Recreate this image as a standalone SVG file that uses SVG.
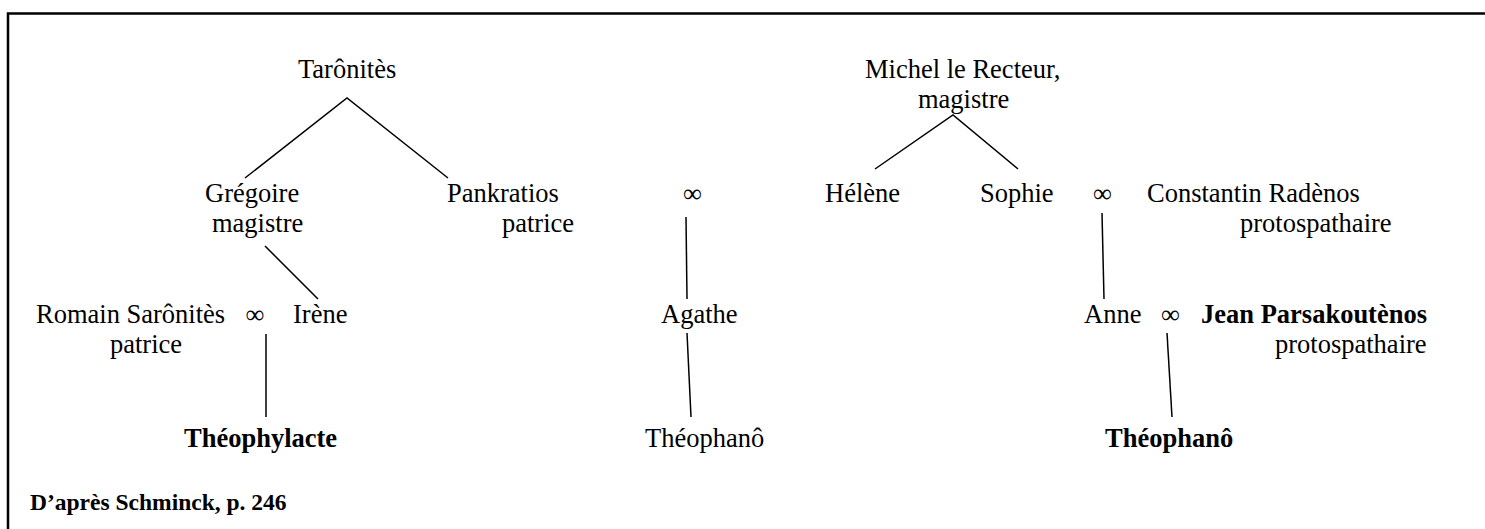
<svg xmlns="http://www.w3.org/2000/svg" width="1485" height="529" viewBox="0 0 1485 529">
<style>
text{font-family:"Liberation Serif","Times New Roman",serif;font-size:26.5px;fill:#000}
.b{font-weight:bold}
.inf{font-size:26.5px}
.src{font-size:23.5px;font-weight:bold}
.ln{stroke:#000;stroke-width:1.5;fill:none}
.frame{stroke:#000;stroke-width:2.5;fill:none}
</style>
<rect width="1485" height="529" fill="#fff"/>
<g id="frame">
<polyline class="frame" points="8,529 8,13.5 1485,13.5"/>
</g>
<g id="connectors">
<polyline class="ln" points="245,178 347,98 448,178"/>
<polyline class="ln" points="875,169 953,115 1018,169"/>
<line class="ln" x1="265" y1="246" x2="318" y2="299"/>
<line class="ln" x1="266" y1="334" x2="266" y2="417"/>
<line class="ln" x1="686" y1="217" x2="687" y2="299"/>
<line class="ln" x1="687" y1="333" x2="691" y2="417"/>
<line class="ln" x1="1102" y1="213" x2="1104" y2="299"/>
<line class="ln" x1="1167" y1="333" x2="1172" y2="417"/>
</g>
<g id="taronites"><text x="298" y="78">Tarônitès</text></g>
<g id="michel"><text x="865" y="78">Michel le Recteur,</text><text x="918" y="108">magistre</text></g>
<g id="gregoire"><text x="205" y="202">Grégoire</text><text x="212" y="232">magistre</text></g>
<g id="pankratios"><text x="447" y="202">Pankratios</text><text x="502" y="232">patrice</text></g>
<g id="marriage1"><text class="inf" x="683" y="202">∞</text></g>
<g id="helene"><text x="825" y="202">Hélène</text></g>
<g id="sophie"><text x="980" y="202">Sophie</text></g>
<g id="marriage2"><text class="inf" x="1093" y="202">∞</text></g>
<g id="constantin"><text x="1147" y="202">Constantin Radènos</text><text x="1240" y="232">protospathaire</text></g>
<g id="romain"><text x="36" y="323">Romain Sarônitès</text><text x="110" y="353">patrice</text></g>
<g id="marriage3"><text class="inf" x="245.5" y="323">∞</text></g>
<g id="irene"><text x="293" y="323">Irène</text></g>
<g id="agathe"><text x="661" y="323">Agathe</text></g>
<g id="anne"><text x="1084" y="323">Anne</text></g>
<g id="marriage4"><text class="inf" x="1161" y="323">∞</text></g>
<g id="jean"><text class="b" x="1201" y="323">Jean Parsakoutènos</text><text x="1275" y="353">protospathaire</text></g>
<g id="theophylacte"><text class="b" x="184" y="447">Théophylacte</text></g>
<g id="theophano1"><text x="645" y="447">Théophanô</text></g>
<g id="theophano2"><text class="b" x="1105" y="447">Théophanô</text></g>
<g id="source"><text class="src" x="30" y="510">D’après Schminck, p. 246</text></g>
</svg>
